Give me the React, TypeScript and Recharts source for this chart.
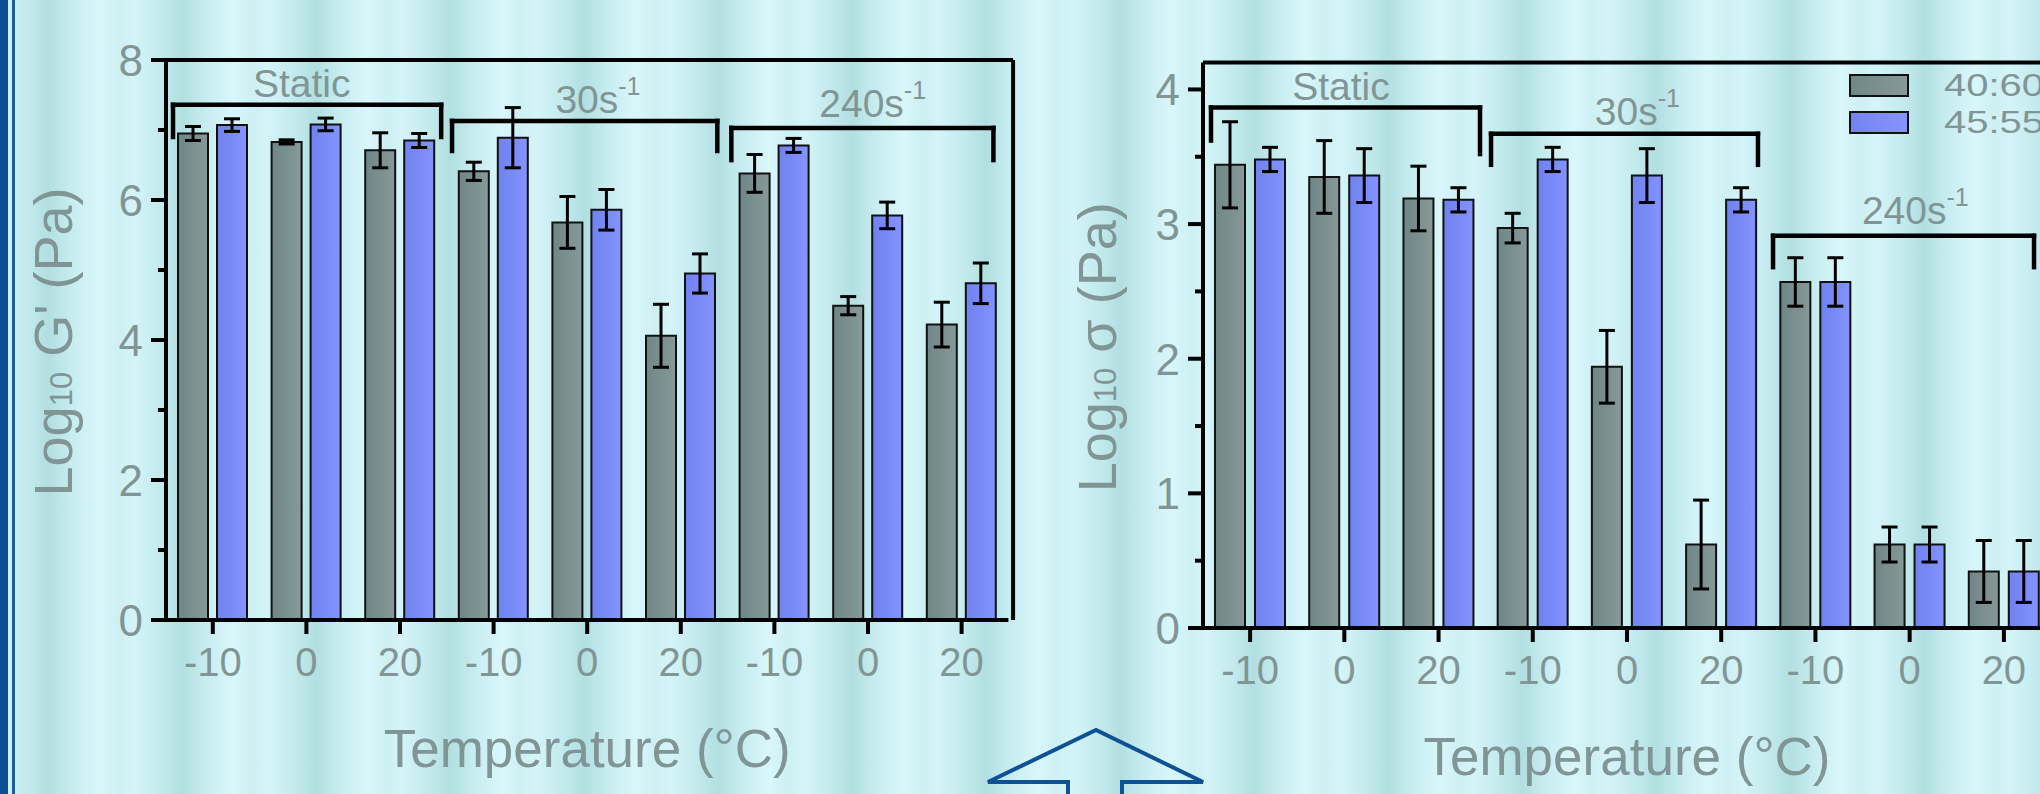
import { BarChart, Bar, XAxis, YAxis, ErrorBar, ReferenceLine, ReferenceDot, Legend } from "recharts";

const TEMPS = ['-10', '0', '20', '-10', '0', '20', '-10', '0', '20'];
const SERIES = ['40:60', '45:55'];

// Log10 G' (Pa)
const G_4060 = [6.95, 6.83, 6.71, 6.41, 5.68, 4.06, 6.38, 4.49, 4.22];
const G_4060_ERR = [0.1, 0.03, 0.25, 0.13, 0.37, 0.45, 0.27, 0.13, 0.32];
const G_4555 = [7.07, 7.08, 6.85, 6.89, 5.86, 4.95, 6.78, 5.78, 4.81];
const G_4555_ERR = [0.09, 0.09, 0.1, 0.43, 0.29, 0.28, 0.1, 0.19, 0.29];

// Log10 sigma (Pa)
const S_4060 = [3.44, 3.35, 3.19, 2.97, 1.94, 0.62, 2.57, 0.62, 0.42];
const S_4060_ERR = [0.32, 0.27, 0.24, 0.11, 0.27, 0.33, 0.18, 0.13, 0.23];
const S_4555 = [3.48, 3.36, 3.18, 3.48, 3.36, 3.18, 2.57, 0.62, 0.42];
const S_4555_ERR = [0.09, 0.2, 0.09, 0.09, 0.2, 0.09, 0.18, 0.13, 0.23];

const G_TICKS = [0, 1, 2, 3, 4, 5, 6, 7, 8];
const S_TICKS = [0, 0.5, 1, 1.5, 2, 2.5, 3, 3.5, 4];

// shear-rate groups: [x1, x2, top, left end, right end] on a 0..9 category scale
const G_BRACKETS = [
  [0.075, 2.94, 7.36, 6.9, 6.9],
  [3.056, 5.89, 7.13, 6.7, 6.7],
  [6.04, 8.84, 7.03, 6.57, 6.57],
];
const S_BRACKETS = [
  [0.085, 2.94, 3.865, 3.62, 3.52],
  [3.057, 5.89, 3.67, 3.44, 3.44],
  [6.05, 8.82, 2.913, 2.68, 2.68],
];
// [text, superscript, x, baseline]
const G_GROUPS = [['Static', '', 1.45, 7.47], ['30s', '-1', 4.615, 7.25], ['240s', '-1', 7.55, 7.19]];
const S_GROUPS = [['Static', '', 1.465, 3.92], ['30s', '-1', 4.61, 3.734], ['240s', '-1', 7.56, 3.004]];

const GRAY = '#819595';
const FONT = '"Liberation Sans", Arial, sans-serif';

const makeRows = (a: number[], aErr: number[], b: number[], bErr: number[]) =>
  TEMPS.map((t, i) => ({ key: String(i), pos: i + 0.5, temp: t, a: a[i], aErr: aErr[i], b: b[i], bErr: bErr[i] }));

const renderYTick = (isMajor: (v: number) => boolean) => (props: any) => {
  const { x, y, payload } = props;
  const major = isMajor(payload.value);
  return (
    <g>
      <line x1={x + (major ? 8 : 15)} x2={x + 23} y1={y} y2={y} stroke="#000" strokeWidth={4} />
      {major && (
        <text x={x} y={y} dy="0.36em" textAnchor="end" fontSize={44} fill={GRAY}>
          {payload.value}
        </text>
      )}
    </g>
  );
};

const LegendBox = () => (
  <div style={{ fontFamily: FONT, fontSize: 32, color: GRAY }}>
    {SERIES.map((s, i) => (
      <div key={s} style={{ display: 'flex', alignItems: 'center', height: 23, marginBottom: 14, whiteSpace: 'nowrap' }}>
        <span
          style={{
            display: 'inline-block', boxSizing: 'border-box', width: 60, height: 23, flex: 'none',
            border: '2.5px solid #111',
            background: i === 0 ? 'linear-gradient(90deg,#718787,#879999)' : 'linear-gradient(90deg,#7284f2,#8694ff)',
          }}
        />
        <span style={{ marginLeft: 35, lineHeight: '23px', display: 'inline-block', transform: 'scaleX(1.25)', transformOrigin: 'left center' }}>
          {s}
        </span>
      </div>
    ))}
  </div>
);

interface PanelProps {
  id: string;
  rows: ReturnType<typeof makeRows>;
  yMax: number;
  ticks: number[];
  isMajor: (v: number) => boolean;
  yName: string;
  brackets: number[][];
  groups: (string | number)[][];
  frameRight?: number;
  legend?: boolean;
  margin: { top: number; right: number; bottom: number; left: number };
  barGap: number;
  titleDx: number;
}

const Panel = (p: PanelProps) => (
  <BarChart width={1030} height={794} data={p.rows} margin={p.margin} barCategoryGap={12} barGap={p.barGap}>
    <defs>
      <linearGradient id={`${p.id}-gray`} x1="0" y1="0" x2="1" y2="0">
        <stop offset="0%" stopColor="#6f8686" />
        <stop offset="100%" stopColor="#879999" />
      </linearGradient>
      <linearGradient id={`${p.id}-blue`} x1="0" y1="0" x2="1" y2="0">
        <stop offset="0%" stopColor="#6f82ee" />
        <stop offset="100%" stopColor="#8493ff" />
      </linearGradient>
    </defs>
    <XAxis
      xAxisId="cat"
      dataKey="key"
      interval={0}
      tickFormatter={(v) => TEMPS[Number(v)]}
      tick={{ fill: GRAY, fontSize: 40 }}
      tickSize={14}
      tickMargin={14}
      tickLine={{ stroke: '#000', strokeWidth: 4 }}
      axisLine={{ stroke: '#000', strokeWidth: 4 }}
      height={60}
      label={{
        content: (lp: any) => {
          const vb = lp.viewBox;
          return (
            <text x={vb.x + vb.width / 2} y={vb.y + 147} textAnchor="middle" fontSize={53} fill={GRAY}>
              Temperature (°C)
            </text>
          );
        },
      }}
    />
    <XAxis xAxisId="num" dataKey="pos" type="number" domain={[0, 9]} allowDataOverflow hide />
    <YAxis
      domain={[0, p.yMax]}
      ticks={p.ticks}
      interval={0}
      width={60}
      tickSize={15}
      tickMargin={8}
      tickLine={false}
      tick={renderYTick(p.isMajor)}
      axisLine={{ stroke: '#000', strokeWidth: 4 }}
      allowDataOverflow
      label={{
        content: (lp: any) => {
          const vb = lp.viewBox;
          const bx = vb.x - p.titleDx;
          const cy = vb.y + vb.height / 2 + 2;
          return (
            <text x={bx} y={cy} transform={`rotate(-90, ${bx}, ${cy})`} textAnchor="middle" fontSize={54} fill={GRAY}>
              Log<tspan fontSize={31}>10</tspan>
              <tspan>{` ${p.yName} (Pa)`}</tspan>
            </text>
          );
        },
      }}
    />
    <Bar xAxisId="cat" dataKey="a" name={SERIES[0]} fill={`url(#${p.id}-gray)`} stroke="#111" strokeWidth={2} isAnimationActive={false}>
      <ErrorBar dataKey="aErr" width={8} strokeWidth={3} stroke="#000" direction="y" />
    </Bar>
    <Bar xAxisId="cat" dataKey="b" name={SERIES[1]} fill={`url(#${p.id}-blue)`} stroke="#111" strokeWidth={2} isAnimationActive={false}>
      <ErrorBar dataKey="bErr" width={8} strokeWidth={3} stroke="#000" direction="y" />
    </Bar>

    {/* frame */}
    <ReferenceLine xAxisId="num" segment={[{ x: 0, y: p.yMax }, { x: p.frameRight ?? 9.3, y: p.yMax }]} stroke="#000" strokeWidth={4} ifOverflow="visible" />
    {p.frameRight !== undefined && (
      <ReferenceLine xAxisId="num" segment={[{ x: p.frameRight, y: 0 }, { x: p.frameRight, y: p.yMax }]} stroke="#000" strokeWidth={4} ifOverflow="visible" />
    )}

    {/* group brackets */}
    {p.brackets.map(([x1, x2, top, l, r], i) => [
      <ReferenceLine key={`h${i}`} xAxisId="num" segment={[{ x: x1, y: top }, { x: x2, y: top }]} stroke="#000" strokeWidth={4.5} strokeLinecap="square" ifOverflow="visible" />,
      <ReferenceLine key={`l${i}`} xAxisId="num" segment={[{ x: x1, y: top }, { x: x1, y: l }]} stroke="#000" strokeWidth={4.5} strokeLinecap="square" ifOverflow="visible" />,
      <ReferenceLine key={`r${i}`} xAxisId="num" segment={[{ x: x2, y: top }, { x: x2, y: r }]} stroke="#000" strokeWidth={4.5} strokeLinecap="square" ifOverflow="visible" />,
    ])}
    {p.groups.map(([text, sup, gx, gy]) => (
      <ReferenceDot
        key={String(text)}
        xAxisId="num"
        x={gx as number}
        y={gy as number}
        r={0}
        ifOverflow="visible"
        shape={(sp: any) => (
          <text x={sp.cx} y={sp.cy} textAnchor="middle" fontSize={39} fill={GRAY}>
            {text}
            {sup && (
              <tspan dy={-18} fontSize={25}>
                {sup}
              </tspan>
            )}
          </text>
        )}
      />
    ))}

    {p.legend && (
      <Legend
        layout="vertical"
        align="center"
        verticalAlign="middle"
        wrapperStyle={{ left: 819, top: 74, width: 240, height: 80 }}
        content={() => <LegendBox />}
      />
    )}
  </BarChart>
);

export default function App() {
  const gRows = makeRows(G_4060, G_4060_ERR, G_4555, G_4555_ERR);
  const sRows = makeRows(S_4060, S_4060_ERR, S_4555, S_4555_ERR);
  return (
    <div
      style={{
        position: 'absolute', left: 0, top: 0, width: 2040, height: 794, overflow: 'hidden', fontFamily: FONT,
        background:
          'repeating-linear-gradient(90deg, #d4f4f8 0px, #c2eaed 28px, #b2dfe1 48px, #c7edf0 72px, #d9f7fb 100px, #cdf0f3 118px, #d4f4f8 134px)',
      }}
    >
      <div style={{ position: 'absolute', left: 0, top: 0, width: 8, height: 794, background: '#0b4f91' }} />
      <div style={{ position: 'absolute', left: 12, top: 0, width: 3, height: 794, background: '#1a5ea2' }} />

      <div style={{ position: 'absolute', left: 0, top: 0 }}>
        <Panel
          id="g"
          rows={gRows}
          yMax={8}
          ticks={G_TICKS}
          isMajor={(v) => v % 2 === 0}
          yName="G'"
          brackets={G_BRACKETS}
          groups={G_GROUPS}
          frameRight={9.05}
          margin={{ top: 60, right: 21.6, bottom: 114, left: 106 }}
          barGap={9}
          titleDx={34}
        />
      </div>
      <div style={{ position: 'absolute', left: 1030, top: 0 }}>
        <Panel
          id="s"
          rows={sRows}
          yMax={4.2}
          ticks={S_TICKS}
          isMajor={(v) => Number.isInteger(v)}
          yName="σ"
          brackets={S_BRACKETS}
          groups={S_GROUPS}
          legend
          margin={{ top: 62.5, right: 9, bottom: 106, left: 113 }}
          barGap={10}
          titleDx={27}
        />
      </div>

      <svg width={2040} height={794} style={{ position: 'absolute', left: 0, top: 0, pointerEvents: 'none' }}>
        <polyline
          points="1068,800 1068,782 988,782 1096,730 1203,782 1122,782 1122,800"
          fill="none"
          stroke="#0d5296"
          strokeWidth={4}
          strokeLinejoin="miter"
        />
      </svg>
    </div>
  );
}
